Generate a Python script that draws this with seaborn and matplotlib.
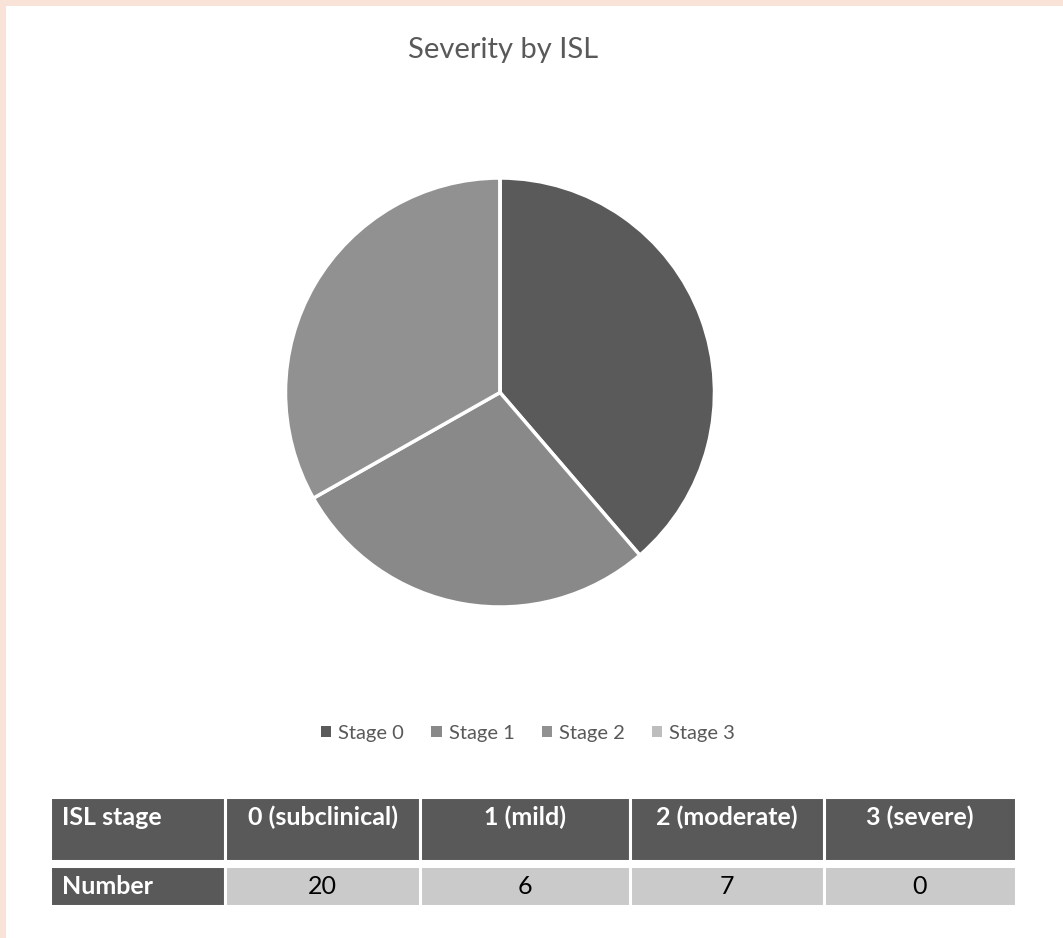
import matplotlib
matplotlib.use("Agg")
import matplotlib.pyplot as plt
from matplotlib.patches import Rectangle, Patch
import seaborn as sns

# ---- data ----
stages = ["Stage 0", "Stage 1", "Stage 2", "Stage 3"]
pie_shares = [38.7, 28.1, 33.2, 0.0]          # share of the pie (%)
table_header = ["ISL stage", "0 (subclinical)", "1 (mild)", "2 (moderate)", "3 (severe)"]
row_label = "Number"
numbers = [20, 6, 7, 0]
colors = ["#5a5a5a", "#898989", "#919191", "#bdbdbd"]

sns.set_theme(style="white")
plt.rcParams["font.family"] = ["Lato", "DejaVu Sans"]

W, H = 1063, 938
fig = plt.figure(figsize=(W / 100, H / 100), dpi=100, facecolor="#f9e2d8")
fig.add_artist(Rectangle((6 / W, 0), 1 - 6 / W, 1 - 6 / H, transform=fig.transFigure,
                         facecolor="white", edgecolor="none", zorder=0))

# title
fig.text(503 / W, 1 - 50 / H, "Severity by ISL", ha="center", va="center",
         fontsize=21, color="#595959")

# pie
cx, cy, r = 500, 392.5, 214.5
ax = fig.add_axes([(cx - r) / W, (H - cy - r) / H, 2 * r / W, 2 * r / H])
ax.pie(pie_shares, colors=colors, startangle=90, counterclock=False,
       wedgeprops=dict(edgecolor="white", linewidth=2.5))
ax.set_xlim(-1, 1)
ax.set_ylim(-1, 1)
ax.set_aspect("equal")
ax.axis("off")

# legend
handles = [Patch(facecolor=c, edgecolor="none") for c in colors]
leg = fig.legend(handles, stages, loc="center", bbox_to_anchor=(528 / W, 1 - 733 / H),
                 ncol=4, frameon=False, fontsize=14.5, handlelength=0.5, handleheight=0.5,
                 handletextpad=0.35, columnspacing=1.35)
for t in leg.get_texts():
    t.set_color("#595959")

# table
tab_ax = fig.add_axes([0, 0, 1, 1])
tab_ax.axis("off")
col_w = [175, 195, 210, 193.5, 192.5]
x0, total_w = 50, sum(col_w)

def make_row(cells, top, bottom, face_first, face_rest, color_first, color_rest, bold_rest,
             linespacing=1.2):
    tb = tab_ax.table(cellText=[cells], colWidths=[w / total_w for w in col_w],
                      cellLoc="center",
                      bbox=[x0 / W, (H - bottom) / H, total_w / W, (bottom - top) / H])
    tb.auto_set_font_size(False)
    for (ri, ci), cell in tb.get_celld().items():
        cell.set_edgecolor("white")
        cell.set_linewidth(2.2)
        cell.get_text().set_linespacing(linespacing)
        if ci == 0:
            cell.set_facecolor(face_first)
            cell._loc = "left"
            cell.PAD = 0.07
            cell.get_text().set_ha("left")
            cell.set_text_props(color=color_first, fontweight="bold", fontsize=18)
        else:
            cell.set_facecolor(face_rest)
            cell.set_text_props(color=color_rest, fontweight="bold" if bold_rest else "normal",
                                fontsize=18)
    return tb

make_row([h + "\n" for h in table_header], 797, 861, "#595959", "#595959",
         "white", "white", True, linespacing=1.0)
make_row([row_label] + [str(n) for n in numbers], 866, 906, "#595959", "#cacaca",
         "white", "black", False)

fig.savefig("out.png", dpi=100, facecolor=fig.get_facecolor())
